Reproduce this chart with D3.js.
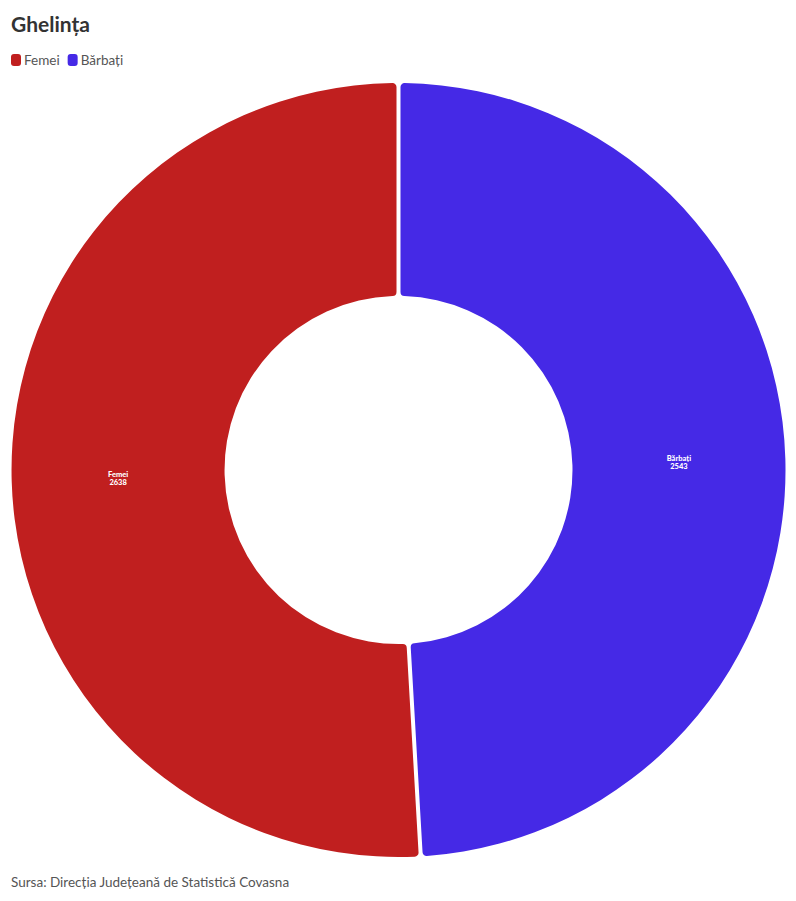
<!DOCTYPE html>
<html><head><meta charset="utf-8">
<script src="https://cdn.jsdelivr.net/npm/d3@7"></script>
<style>
body{margin:0;background:#fff;font-family:"Source Sans Pro","Lato","Open Sans",sans-serif;}
</style></head>
<body>
<svg id="chart" width="796" height="901"></svg>
<script>
const categories = ["Bărbați", "Femei"];
const values = [2543, 2638];
const colors = ["#4529E6", "#C01F1F"];
const legendOrder = ["Femei", "Bărbați"];
const title = "Ghelința";
const source = "Sursa: Direcția Județeană de Statistică Covasna";

const svg = d3.select("#chart");
svg.append("text").attr("x", 11).attr("y", 32).attr("font-size", 21).attr("font-weight", 700)
  .attr("fill", "#333").text(title);

const color = d3.scaleOrdinal().domain(categories).range(colors);

// legend
let lx = 11;
legendOrder.forEach(name => {
  svg.append("rect").attr("x", lx).attr("y", 54).attr("width", 10).attr("height", 12).attr("rx", 3)
    .attr("fill", color(name));
  const t = svg.append("text").attr("x", lx + 13).attr("y", 65).attr("font-size", 13.5).attr("fill", "#555").text(name);
  lx += 13 + t.node().getComputedTextLength() + 8;
});

const cx = 398.5, cy = 470, rOuter = 387, rInner = 174;
const data = categories.map((c, i) => ({ name: c, value: values[i] }));
const pie = d3.pie().value(d => d.value).sort(null);
const arc = d3.arc().innerRadius(rInner).outerRadius(rOuter).cornerRadius(4).padAngle(0.01).padRadius(400);
const g = svg.append("g").attr("transform", `translate(${cx},${cy})`);
const arcs = pie(data);
g.selectAll("path").data(arcs).join("path").attr("d", arc).attr("fill", d => color(d.data.name));

const lab = g.selectAll("text.lab").data(arcs).join("text").attr("class", "lab")
  .attr("transform", d => `translate(${arc.centroid(d)})`)
  .attr("text-anchor", "middle").attr("font-size", 7.5).attr("font-weight", 900).attr("fill", "#fff");
lab.append("tspan").attr("x", 0).attr("dy", "-0.1em").text(d => d.data.name);
lab.append("tspan").attr("x", 0).attr("dy", "1.0em").text(d => d.data.value);

svg.append("text").attr("x", 11).attr("y", 887).attr("font-size", 13.5).attr("fill", "#555").text(source);
</script>
</body></html>
